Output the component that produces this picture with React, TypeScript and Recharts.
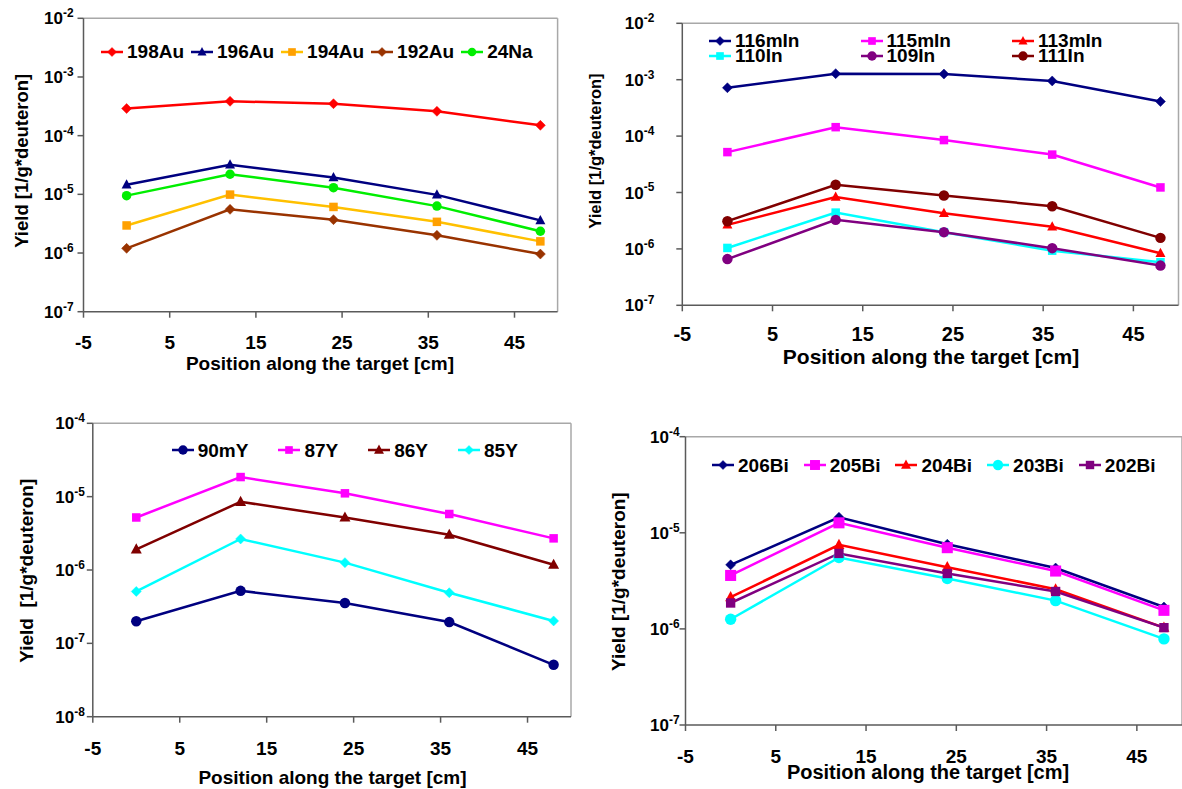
import React from 'react';
import { LineChart, Line, XAxis, YAxis, Legend, ReferenceLine } from 'recharts';

// positions of the foils along the target (cm)
const positions = [0, 12, 24, 36, 48];
const xTicks = [-5, 5, 15, 25, 35, 45];

// gold + sodium foils
const au198 = [2.9e-4, 3.85e-4, 3.5e-4, 2.6e-4, 1.5e-4];
const au196 = [1.46e-5, 3.2e-5, 1.94e-5, 9.8e-6, 3.6e-6];
const au194 = [2.95e-6, 9.9e-6, 6.1e-6, 3.4e-6, 1.58e-6];
const au192 = [1.2e-6, 5.55e-6, 3.7e-6, 2.0e-6, 9.6e-7];
const na24 = [9.5e-6, 2.2e-5, 1.3e-5, 6.3e-6, 2.35e-6];

// indium foils
const in116m = [7.2e-4, 1.28e-3, 1.26e-3, 9.5e-4, 4.1e-4];
const in115m = [5.2e-5, 1.44e-4, 8.5e-5, 4.7e-5, 1.23e-5];
const in113m = [2.67e-6, 8.3e-6, 4.3e-6, 2.46e-6, 8.4e-7];
const in110 = [1.04e-6, 4.4e-6, 1.98e-6, 9.3e-7, 5.8e-7];
const in109 = [6.6e-7, 3.27e-6, 1.98e-6, 1.03e-6, 5.06e-7];
const in111 = [3.1e-6, 1.37e-5, 8.85e-6, 5.7e-6, 1.57e-6];

// yttrium foils
const y90m = [2.0e-7, 5.2e-7, 3.55e-7, 1.95e-7, 5.1e-8];
const y87 = [5.2e-6, 1.85e-5, 1.11e-5, 5.8e-6, 2.7e-6];
const y86 = [1.91e-6, 8.5e-6, 5.2e-6, 3.03e-6, 1.18e-6];
const y85 = [5.1e-7, 2.65e-6, 1.26e-6, 4.9e-7, 2.02e-7];

// bismuth foils
const bi206 = [4.64e-6, 1.45e-5, 7.6e-6, 4.3e-6, 1.69e-6];
const bi205 = [3.6e-6, 1.27e-5, 7.0e-6, 4.0e-6, 1.56e-6];
const bi204 = [2.14e-6, 7.5e-6, 4.39e-6, 2.59e-6, 1.03e-6];
const bi203 = [1.26e-6, 5.54e-6, 3.34e-6, 1.97e-6, 7.87e-7];
const bi202 = [1.86e-6, 6.1e-6, 3.77e-6, 2.45e-6, 1.03e-6];

const FONT = "'Liberation Sans', Arial, sans-serif";

type Marker = 'diamond' | 'square' | 'triangle' | 'circle';
type Series = { name: string; values: number[]; color: string; marker: Marker; fill?: string; size?: number };

function MarkerShape({ cx, cy, marker, color, size = 5 }: { cx: number; cy: number; marker: Marker; color: string; size?: number }) {
  const s = size;
  if (marker === 'diamond') {
    return <polygon points={`${cx},${cy - s} ${cx + s},${cy} ${cx},${cy + s} ${cx - s},${cy}`} fill={color} stroke={color} strokeWidth={0.5} />;
  }
  if (marker === 'square') {
    const h = s * 0.85;
    return <rect x={cx - h} y={cy - h} width={h * 2} height={h * 2} fill={color} />;
  }
  if (marker === 'triangle') {
    return <polygon points={`${cx},${cy - s * 1.1} ${cx + s},${cy + s * 0.75} ${cx - s},${cy + s * 0.75}`} fill={color} />;
  }
  return <circle cx={cx} cy={cy} r={s * 0.95} fill={color} />;
}

function PowerTick(props: any) {
  const { x, y, payload, gap, fs } = props;
  const exp = Math.round(Math.log10(payload.value));
  return (
    <text x={x - gap} y={y + fs * 0.36} textAnchor="end" fontFamily={FONT} fontWeight="bold" fontSize={fs} fill="#000">
      <tspan>10</tspan>
      <tspan dy={-fs * 0.42} fontSize={fs * 0.7}>{exp}</tspan>
    </text>
  );
}

function PlainTick(props: any) {
  const { x, y, payload, shift, fs } = props;
  return (
    <text x={x} y={y + shift} textAnchor="middle" fontFamily={FONT} fontWeight="bold" fontSize={fs} fill="#000">
      {payload.value}
    </text>
  );
}

function AxisTitle(props: any) {
  const { px, py, text, rotate, fs } = props;
  return (
    <text
      x={px}
      y={py}
      textAnchor="middle"
      dominantBaseline="central"
      transform={rotate ? `rotate(-90 ${px} ${py})` : undefined}
      fontFamily={FONT}
      fontWeight="bold"
      fontSize={fs}
      fill="#000"
      style={{ whiteSpace: 'pre' }}
    >
      {text}
    </text>
  );
}

type PanelProps = {
  box: { x: number; y: number; w: number; h: number };
  plot: { left: number; top: number; right: number; bottom: number };
  expMin: number;
  expMax: number;
  series: Series[];
  yTickGap: number;
  xTickDy: number;
  xTickSize: number;
  yTitle: { x: number; y: number; size: number; text: string };
  xTitle: { x: number; y: number; size: number };
  legend: { left: number; cy: number; gap: number; cols?: number; colWidth?: number; rowH?: number; size: number };
};

function Panel({ box, plot, expMin, expMax, series, yTickGap, xTickDy, xTickSize, yTitle, xTitle, legend }: PanelProps) {
  const rows = positions.map((p, i) => {
    const r: Record<string, number> = { pos: p };
    series.forEach((s) => (r[s.name] = s.values[i]));
    return r;
  });
  const yTicks: number[] = [];
  for (let e = expMin; e <= expMax; e++) yTicks.push(Math.pow(10, e));

  const xAxisH = 60;
  const margin = {
    top: plot.top - box.y,
    right: Math.max(0, box.x + box.w - plot.right),
    bottom: box.y + box.h - plot.bottom - xAxisH,
    left: 0,
  };

  const item = (s: Series) => (
    <div key={s.name} style={{ display: 'flex', alignItems: 'center', marginRight: legend.cols ? 0 : legend.gap, width: legend.colWidth }}>
      <svg width={22} height={14} style={{ display: 'block' }}>
        <line x1={0} x2={22} y1={7} y2={7} stroke={s.color} strokeWidth={2.5} />
        <MarkerShape cx={11} cy={7} marker={s.marker} color={s.fill || s.color} size={s.size ? s.size * 0.9 : 4.5} />
      </svg>
      <span style={{ marginLeft: 4, fontFamily: FONT, fontWeight: 'bold', fontSize: legend.size, lineHeight: 1, color: '#000', whiteSpace: 'nowrap' }}>{s.name}</span>
    </div>
  );

  const rowH = legend.rowH || 22;
  const renderLegend = () =>
    legend.cols ? (
      <div style={{ display: 'grid', gridTemplateColumns: `repeat(${legend.cols}, ${legend.colWidth}px)`, gridAutoRows: `${rowH}px`, alignItems: 'center' }}>
        {series.map(item)}
      </div>
    ) : (
      <div style={{ display: 'flex', alignItems: 'center', height: rowH }}>{series.map(item)}</div>
    );

  return (
    <div style={{ position: 'absolute', left: box.x, top: box.y, width: box.w, height: box.h }}>
      <LineChart width={box.w} height={box.h} data={rows} margin={margin}>
        <XAxis
          dataKey="pos"
          type="number"
          domain={[-5, 50]}
          ticks={xTicks}
          allowDataOverflow
          height={xAxisH}
          stroke="#5a5a5a"
          strokeWidth={1.5}
          tickSize={6}
          tickMargin={0}
          tick={<PlainTick shift={xTickDy} fs={xTickSize} />}
          label={<AxisTitle px={xTitle.x - box.x} py={xTitle.y - box.y} text="Position along the target [cm]" fs={xTitle.size} />}
        />
        <YAxis
          type="number"
          scale="log"
          domain={[Math.pow(10, expMin), Math.pow(10, expMax)]}
          ticks={yTicks}
          allowDataOverflow
          width={plot.left - box.x}
          stroke="#5a5a5a"
          strokeWidth={1.5}
          tickSize={6}
          tickMargin={0}
          tick={<PowerTick gap={yTickGap} fs={17} />}
          label={<AxisTitle px={yTitle.x - box.x} py={yTitle.y - box.y} text={yTitle.text} rotate fs={yTitle.size} />}
        />
        <ReferenceLine y={Math.pow(10, expMax)} stroke="#a8a8a8" strokeWidth={1.5} />
        <ReferenceLine x={50} stroke="#a8a8a8" strokeWidth={1.5} />
        <Legend
          layout="horizontal"
          verticalAlign="middle"
          align="center"
          content={renderLegend}
          wrapperStyle={{ left: legend.left - box.x, top: legend.cy - box.y - (legend.cols ? rowH : rowH / 2), width: 'auto', height: 'auto' }}
        />
        {series.map((s) => (
          <Line
            key={s.name}
            type="linear"
            dataKey={s.name}
            name={s.name}
            stroke={s.color}
            strokeWidth={2.5}
            isAnimationActive={false}
            activeDot={false}
            dot={(p: any) => (
              <MarkerShape key={`${s.name}-${p.index}`} cx={p.cx} cy={p.cy} marker={s.marker} color={s.fill || s.color} size={s.size || 5} />
            )}
          />
        ))}
      </LineChart>
    </div>
  );
}

const auSeries: Series[] = [
  { name: '198Au', values: au198, color: '#FF0000', marker: 'diamond' },
  { name: '196Au', values: au196, color: '#000080', marker: 'triangle' },
  { name: '194Au', values: au194, color: '#FFC000', fill: '#FFA000', marker: 'square' },
  { name: '192Au', values: au192, color: '#993300', marker: 'diamond' },
  { name: '24Na', values: na24, color: '#00EE00', marker: 'circle' },
];

const inSeries: Series[] = [
  { name: '116mIn', values: in116m, color: '#000080', marker: 'diamond' },
  { name: '115mIn', values: in115m, color: '#FF00FF', marker: 'square' },
  { name: '113mIn', values: in113m, color: '#FF0000', marker: 'triangle' },
  { name: '110In', values: in110, color: '#00FFFF', marker: 'square' },
  { name: '109In', values: in109, color: '#800080', marker: 'circle', size: 5.5 },
  { name: '111In', values: in111, color: '#800000', marker: 'circle', size: 5.5 },
];

const ySeries: Series[] = [
  { name: '90mY', values: y90m, color: '#000080', marker: 'circle', size: 5.5 },
  { name: '87Y', values: y87, color: '#FF00FF', marker: 'square' },
  { name: '86Y', values: y86, color: '#800000', marker: 'triangle', size: 5.5 },
  { name: '85Y', values: y85, color: '#00FFFF', marker: 'diamond' },
];

const biSeries: Series[] = [
  { name: '206Bi', values: bi206, color: '#000080', marker: 'diamond' },
  { name: '205Bi', values: bi205, color: '#FF00FF', marker: 'square', size: 6.5 },
  { name: '204Bi', values: bi204, color: '#FF0000', marker: 'triangle', size: 5.5 },
  { name: '203Bi', values: bi203, color: '#00FFFF', marker: 'circle', size: 6 },
  { name: '202Bi', values: bi202, color: '#800080', marker: 'square', size: 5.5 },
];

export default function App() {
  return (
    <div style={{ position: 'absolute', left: 0, top: 0, width: 1182, height: 789, background: '#fff', overflow: 'hidden' }}>
      <Panel
        box={{ x: 0, y: 0, w: 590, h: 395 }}
        plot={{ left: 83.5, top: 18.3, right: 557.6, bottom: 311.7 }}
        expMin={-7}
        expMax={-2}
        series={auSeries}
        yTickGap={4}
        xTickDy={31}
        xTickSize={19}
        yTitle={{ x: 21.6, y: 160.8, size: 18.5, text: 'Yield [1/g*deuteron]' }}
        xTitle={{ x: 320, y: 363.5, size: 19 }}
        legend={{ left: 101, cy: 51.7, gap: 7, size: 19 }}
      />
      <Panel
        box={{ x: 575, y: 0, w: 607, h: 395 }}
        plot={{ left: 682.3, top: 23.3, right: 1178.5, bottom: 305.3 }}
        expMin={-7}
        expMax={-2}
        series={inSeries}
        yTickGap={22}
        xTickDy={30}
        xTickSize={20}
        yTitle={{ x: 595, y: 151, size: 16.5, text: 'Yield [1/g*deuteron]' }}
        xTitle={{ x: 931, y: 356.7, size: 21 }}
        legend={{ left: 709, cy: 48.3, gap: 0, cols: 3, colWidth: 151.5, rowH: 15.3, size: 19 }}
      />
      <Panel
        box={{ x: 0, y: 395, w: 590, h: 394 }}
        plot={{ left: 92.8, top: 423.3, right: 571, bottom: 716.7 }}
        expMin={-8}
        expMax={-4}
        series={ySeries}
        yTickGap={2}
        xTickDy={32.5}
        xTickSize={19}
        yTitle={{ x: 26.5, y: 570.8, size: 19, text: 'Yield  [1/g*deuteron]' }}
        xTitle={{ x: 332.5, y: 777.3, size: 19 }}
        legend={{ left: 171.7, cy: 450, gap: 30, size: 19 }}
      />
      <Panel
        box={{ x: 590, y: 395, w: 592, h: 394 }}
        plot={{ left: 685.5, top: 436.7, right: 1182, bottom: 725 }}
        expMin={-7}
        expMax={-4}
        series={biSeries}
        yTickGap={0}
        xTickDy={31.5}
        xTickSize={19}
        yTitle={{ x: 619, y: 581.7, size: 19, text: 'Yield [1/g*deuteron]' }}
        xTitle={{ x: 928, y: 771.7, size: 20 }}
        legend={{ left: 712, cy: 465, gap: 15, size: 19 }}
      />
    </div>
  );
}
